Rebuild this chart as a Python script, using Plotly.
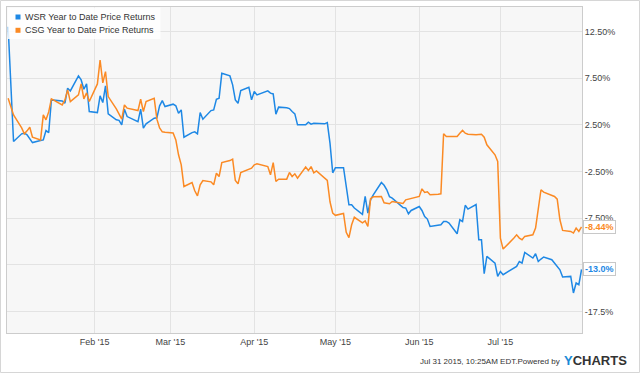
import pandas as pd
import plotly.graph_objects as go

# ---------------- data ----------------
holidays = ["2015-01-01", "2015-01-19", "2015-02-16", "2015-04-03", "2015-05-25", "2015-07-03"]
dates = pd.bdate_range("2014-12-31", "2015-07-31", freq="C", holidays=holidays)

wsr_dec = [13.03]
wsr_jan = [0.71, 1.54, 1.61, 1.43, 1.0, 0.60, 0.82, 0.89, 1.89, 1.67, 5.18, 5.07, 4.82, 6.43, 6.14,
           7.75, 7.32, 6.32, 6.89, 3.93]
wsr_feb = [3.82, 5.61, 4.89, 6.68, 3.68, 3.04, 2.98, 2.5, 4.18, 3.39, 2.85, 4.18, 2.15, 2.61,
           3.22, 3.25, 4.54, 5.10, 4.46]
wsr_mar = [4.72, 4.54, 3.75, 4.11, 1.18, 1.67, 1.75, 1.54, 3.82, 3.11, 4.03, 4.11, 5.25, 5.36, 8.04,
           7.75, 6.79, 5.18, 4.82, 6.17, 6.54, 5.18]
wsr_apr = [6.07, 5.71, 6.14, 5.90, 5.82, 3.65, 4.40, 4.34, 4.25, 3.93, 3.68, 2.5, 2.5, 2.79, 2.57,
           2.68, 2.68, 2.61, 2.75, 0.54, -2.64]
wsr_may = [-2.09, -2.09, -4.11, -6.07, -6.07, -6.42, -7.09, -5.18, -6.96, -5.54, -5.0, -3.68, -3.98,
           -4.46, -5.21, -5.35, -6.36, -6.42, -7.04, -6.68]
wsr_jun = [-6.25, -6.68, -7.32, -7.60, -8.40, -8.21, -8.21, -7.86, -7.86, -8.03, -9.18, -7.68, -7.86,
           -6.12, -6.53, -6.04, -9.82, -9.82, -13.46, -11.61, -12.32, -13.75]
wsr_jul = [-13.22, -13.57, -12.85, -12.68, -12.15, -12.32, -11.18, -11.78, -11.32, -12.15, -11.89,
           -11.67, -11.96, -12.32, -12.68, -13.04, -13.82, -13.75, -15.53, -14.46, -14.64, -13.0]

csg_dec = [5.36]
csg_jan = [3.57, 2.18, 1.54, 1.86, 2.25, 1.18, 0.89, 3.57, 3.04, 3.89, 5.29, 4.64, 5.18, 6.25, 5.0,
           5.71, 6.89, 5.29, 5.93, 5.0]
csg_feb = [6.89, 9.46, 7.0, 8.21, 5.53, 4.21, 3.68, 3.11, 4.64, 4.29, 4.03, 5.25, 3.93, 5.0,
           5.36, 3.11, 2.18, 1.75, 1.70]
csg_mar = [1.64, 0.89, -0.71, -1.79, -4.11, -3.68, -4.57, -5.11, -3.93, -3.47, -3.61, -3.93, -2.68,
           -3.04, -1.54, -1.33, -1.18, -3.47, -3.82, -2.61, -2.25, -2.14]
csg_apr = [-1.79, -1.68, -1.97, -2.86, -1.54, -3.57, -3.32, -3.32, -2.61, -3.04, -2.75, -3.21,
           -2.03, -2.40, -1.97, -2.64, -2.43, -3.21, -3.45, -5.75, -6.96]
csg_may = [-7.20, -7.0, -9.02, -9.59, -8.21, -7.41, -8.0, -7.79, -8.40, -5.41, -5.21, -5.18, -5.86,
           -5.91, -5.96, -5.72, -5.93, -5.54, -5.46, -5.35]
csg_jun = [-5.18, -4.36, -4.75, -4.68, -5.0, -4.95, -4.89, 1.54, 1.25, 1.25, 1.25, 1.61, 1.91, 1.61,
           1.50, 1.43, 1.43, 1.50, 1.18, 0.36, -0.71, -1.43]
csg_jul = [-9.64, -10.82, -9.64, -9.29, -9.64, -9.82, -9.46, -9.29, -8.57, -6.25, -4.46, -4.71,
           -5.0, -5.18, -5.46, -7.68, -8.82, -8.93, -9.10, -8.57, -8.93, -8.44]

wsr = wsr_dec + wsr_jan + wsr_feb + wsr_mar + wsr_apr + wsr_may + wsr_jun + wsr_jul
csg = csg_dec + csg_jan + csg_feb + csg_mar + csg_apr + csg_may + csg_jun + csg_jul

series_names = ["WSR Year to Date Price Returns", "CSG Year to Date Price Returns"]
end_labels = ["-13.0%", "-8.44%"]

x_tickvals = ["2015-02-01", "2015-03-01", "2015-04-01", "2015-05-01", "2015-06-01", "2015-07-01"]
x_ticktext = ["Feb '15", "Mar '15", "Apr '15", "May '15", "Jun '15", "Jul '15"]
y_tickvals = [12.5, 7.5, 2.5, -2.5, -7.5, -12.5, -17.5]
y_ticktext = ["12.50%", "7.50%", "2.50%", "-2.50%", "-7.50%", "-12.5%", "-17.5%"]

footer_text = "Jul 31 2015, 10:25AM EDT.Powered by"

# ---------------- style ----------------
BLUE = "#1e88e5"
ORANGE = "#fb8a24"
FONT = "Liberation Sans, Arial, sans-serif"
W, H = 640, 373
ML, MR, MT, MB = 7, 58, 7, 40
PW, PH = W - ML - MR, H - MT - MB


def px(x):
    return (x - ML) / PW


def py(y):
    return 1 - (y - MT) / PH


fig = go.Figure()
fig.add_trace(go.Scatter(x=dates, y=wsr, mode="lines", line=dict(color=BLUE, width=1.5),
                         name=series_names[0], showlegend=False, hoverinfo="skip"))
fig.add_trace(go.Scatter(x=dates, y=csg, mode="lines", line=dict(color=ORANGE, width=1.5),
                         name=series_names[1], showlegend=False, hoverinfo="skip"))

shapes = [
    # outer frame
    dict(type="rect", xref="paper", yref="paper", x0=px(0.5), x1=px(639.5), y0=py(372.5), y1=py(0.5),
         line=dict(color="#d6d6d6", width=1), fillcolor="rgba(0,0,0,0)", layer="above"),
    # legend box
    dict(type="rect", xref="paper", yref="paper", x0=px(7.5), x1=px(160.5), y0=py(39), y1=py(7.5),
         line=dict(width=0), fillcolor="rgba(255,255,255,0.85)", layer="above"),
    # legend squares
    dict(type="rect", xref="paper", yref="paper", x0=px(15.5), x1=px(20.5), y0=py(19.5), y1=py(14.5),
         line=dict(width=0), fillcolor=BLUE, layer="above"),
    dict(type="rect", xref="paper", yref="paper", x0=px(15.5), x1=px(20.5), y0=py(32.8), y1=py(27.8),
         line=dict(width=0), fillcolor=ORANGE, layer="above"),
]

annotations = [
    dict(xref="paper", yref="paper", x=px(22.5), y=py(17), xanchor="left", yanchor="middle",
         text=series_names[0], showarrow=False, font=dict(family=FONT, size=9, color="#333")),
    dict(xref="paper", yref="paper", x=px(22.5), y=py(30.3), xanchor="left", yanchor="middle",
         text=series_names[1], showarrow=False, font=dict(family=FONT, size=9, color="#333")),
    dict(xref="paper", yref="y", x=px(583), y=wsr[-1], xanchor="left", yanchor="middle",
         text="<b>" + end_labels[0] + "</b>", showarrow=False, bgcolor="white",
         bordercolor="#c8c8c8", borderwidth=1, borderpad=1,
         font=dict(family=FONT, size=9, color=BLUE)),
    dict(xref="paper", yref="y", x=px(583), y=csg[-1], xanchor="left", yanchor="middle",
         text="<b>" + end_labels[1] + "</b>", showarrow=False, bgcolor="white",
         bordercolor="#c8c8c8", borderwidth=1, borderpad=1,
         font=dict(family=FONT, size=9, color=ORANGE)),
    dict(xref="paper", yref="paper", x=px(562), y=py(361), xanchor="right", yanchor="middle",
         text=footer_text, showarrow=False, font=dict(family=FONT, size=8, color="#333")),
    dict(xref="paper", yref="paper", x=px(562), y=py(360), xanchor="left", yanchor="middle",
         text="<b><span style='color:#1a8ad6'>Y</span>CHARTS</b>", showarrow=False,
         font=dict(family=FONT, size=13, color="#333")),
]

fig.update_layout(
    width=W, height=H,
    margin=dict(l=ML, r=MR, t=MT, b=MB),
    paper_bgcolor="white",
    plot_bgcolor="#f7f7f7",
    showlegend=False,
    font=dict(family=FONT, size=9, color="#444"),
    shapes=shapes,
    annotations=annotations,
    xaxis=dict(
        type="date",
        range=["2014-12-30 14:00", "2015-07-31 04:00"],
        tickvals=x_tickvals, ticktext=x_ticktext,
        showgrid=True, gridcolor="#e3e3e3", gridwidth=1,
        showline=True, linecolor="#cccccc", linewidth=1, mirror=True,
        ticks="", zeroline=False,
        tickfont=dict(family=FONT, size=9, color="#444"),
    ),
    yaxis=dict(
        side="right",
        range=[-19.82, 15.14],
        tickvals=y_tickvals, ticktext=y_ticktext,
        showgrid=True, gridcolor="#e3e3e3", gridwidth=1,
        showline=True, linecolor="#cccccc", linewidth=1, mirror=True,
        ticks="", zeroline=False,
        tickfont=dict(family=FONT, size=9, color="#444"),
    ),
)

fig.write_html(
    "out.html",
    config={"displayModeBar": False},
    post_script="document.body.style.margin='0';document.body.style.overflow='hidden';",
)
